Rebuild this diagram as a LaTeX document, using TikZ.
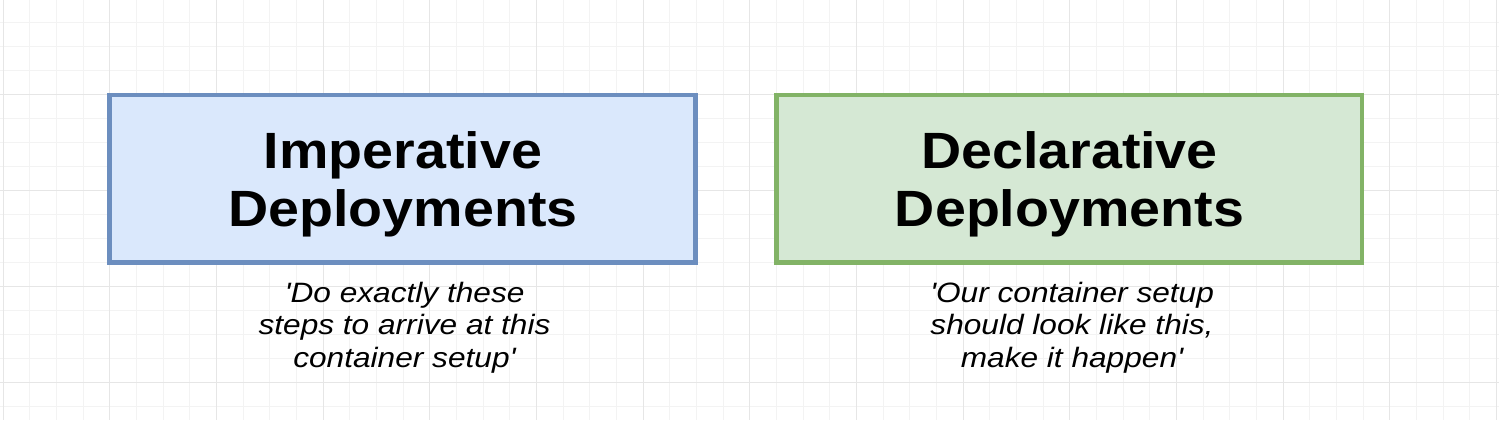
\documentclass[tikz,border=0pt]{standalone}
\usepackage{fontspec}
\setmainfont{Liberation Sans}
\usepackage{graphicx}
\definecolor{bluefill}{HTML}{DAE8FC}
\definecolor{bluedraw}{HTML}{6C8EBF}
\definecolor{greenfill}{HTML}{D5E8D4}
\definecolor{greendraw}{HTML}{82B366}
\definecolor{gridminor}{HTML}{F3F3F3}
\definecolor{gridmajor}{HTML}{E6E6E6}
\newcommand{\tline}[1]{\scalebox{1.09}[1]{#1}}
\newcommand{\sline}[1]{\scalebox{1.13}[1]{#1}}
\newcommand{\sq}{\textquotesingle}
\begin{document}
\begin{tikzpicture}[x=0.5pt,y=-0.5pt,
  deploybox/.style={draw, line width=2.25pt, minimum width=292.85pt, minimum height=83.75pt, inner sep=0pt},
  imperbox/.style={deploybox, draw=bluedraw, fill=bluefill},
  declbox/.style={deploybox, draw=greendraw, fill=greenfill},
  titletext/.style={anchor=north, inner sep=0pt, align=center, text=black,
    font=\fontsize{25.5}{29}\selectfont\bfseries},
  subtext/.style={anchor=north, inner sep=0pt, align=center, text=black,
    font=\fontsize{14}{16.25}\selectfont\itshape},
  minorline/.style={draw=gridminor, line width=0.5pt},
  majorline/.style={draw=gridmajor, line width=0.5pt}
]
\useasboundingbox[fill=white] (0,0) rectangle (1499,420);
% grid
\foreach \k in {0,...,56} {
  \pgfmathsetmacro\xx{3+26.6667*\k}
  \draw[minorline] (\xx,0) -- (\xx,420);
}
\foreach \k in {0,...,17} {
  \pgfmathsetmacro\yy{22.7+24*\k}
  \draw[minorline] (0,\yy) -- (1499,\yy);
}
\foreach \k in {0,...,14} {
  \pgfmathsetmacro\xx{3.3+106.6667*\k}
  \draw[majorline] (\xx,0) -- (\xx,420);
}
\foreach \k in {1,...,4} {
  \pgfmathsetmacro\yy{-1.3+96*\k}
  \draw[majorline] (0,\yy) -- (1499,\yy);
}
% boxes
\node[imperbox] (imp) at (402.5,178.75) {};
\node[declbox] (decl) at (1069.25,178.75) {};
% titles
\node[titletext] (impT) at (403,131) {\tline{Imperative}\\\tline{Deployments}};
\node[titletext] (declT) at (1069.5,131) {\tline{Declarative}\\\tline{Deployments}};
% subtitles
\node[subtext] (impS) at (404.5,281.3) {\sline{\sq Do exactly these}\\\sline{steps to arrive at this}\\\sline{container setup\sq}};
\node[subtext] (declS) at (1072,281.3) {\sline{\sq Our container setup}\\\sline{should look like this,}\\\sline{make it happen\sq}};
\end{tikzpicture}
\end{document}
